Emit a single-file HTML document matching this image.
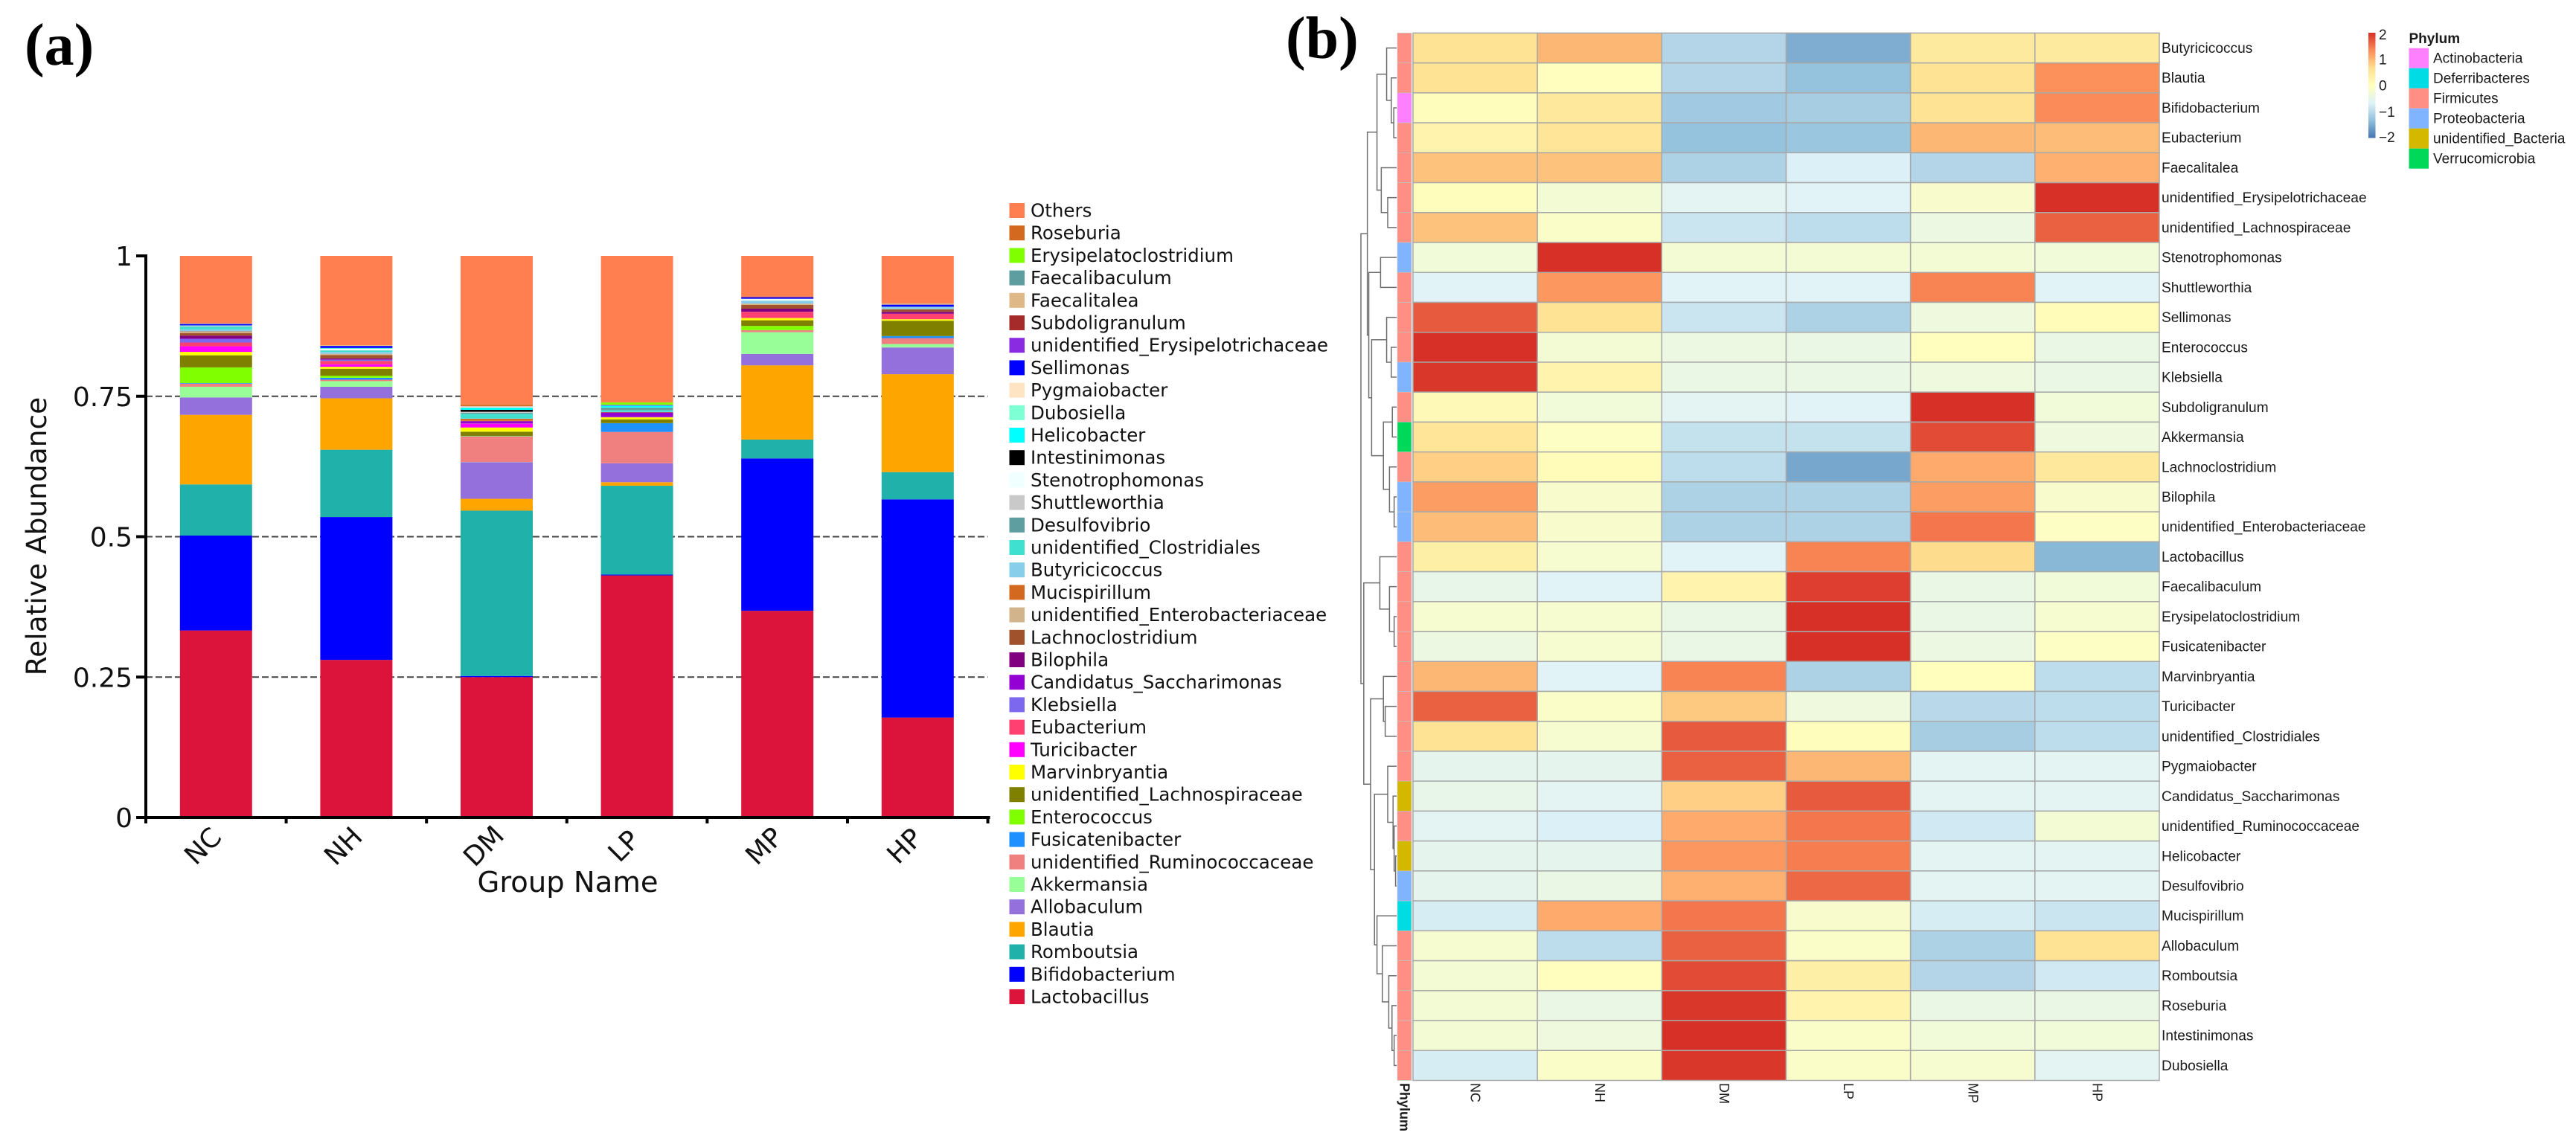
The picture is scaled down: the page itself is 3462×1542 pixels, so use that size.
<!DOCTYPE html>
<html lang="en">
<head>
<meta charset="utf-8">
<title>Relative abundance and phylum heatmap</title>
<style>
html,body{margin:0;padding:0;background:#fff;}
#figure{display:block;width:3462px;height:1542px;background:#fff;}
.dv{font-family:"DejaVu Sans",sans-serif;fill:#111;}
.lb{font-family:"Liberation Sans",sans-serif;fill:#1a1a1a;}
.panel{font-family:"Liberation Serif",serif;font-weight:bold;font-size:80px;fill:#000;}
</style>
</head>
<body>
<svg id="figure" xmlns="http://www.w3.org/2000/svg" width="3462" height="1542" viewBox="0 0 3462 1542">
<rect x="0" y="0" width="3462" height="1542" fill="#ffffff"/>
<text class="panel" x="33" y="87">(a)</text>
<text class="panel" x="1728" y="78">(b)</text>
<g id="barChart"></g>
<g id="barLegend"></g>
<g id="heatmap"></g>
<g id="dendrogram"></g>
<g id="heatLegend"></g>
</svg>
<script>
// ---------- Panel (a) data ----------
const groups = ['NC','NH','DM','LP','MP','HP'];
const yTicks = [0,0.25,0.5,0.75,1];
const yTickLabels = ['0','0.25','0.5','0.75','1'];
const species = ['Lactobacillus','Bifidobacterium','Romboutsia','Blautia','Allobaculum','Akkermansia','unidentified_Ruminococcaceae','Fusicatenibacter','Enterococcus','unidentified_Lachnospiraceae','Marvinbryantia','Turicibacter','Eubacterium','Klebsiella','Candidatus_Saccharimonas','Bilophila','Lachnoclostridium','unidentified_Enterobacteriaceae','Mucispirillum','Butyricicoccus','unidentified_Clostridiales','Desulfovibrio','Shuttleworthia','Stenotrophomonas','Intestinimonas','Helicobacter','Dubosiella','Pygmaiobacter','Sellimonas','unidentified_Erysipelotrichaceae','Subdoligranulum','Faecalitalea','Faecalibaculum','Erysipelatoclostridium','Roseburia','Others'];
const palette = ['#DC143C','#0000FF','#20B2AA','#FFA500','#9370DB','#98FF98','#F08080','#1E90FF','#7FFF00','#808000','#FFFF00','#FF00FF','#FF4070','#7B68EE','#9400D3','#800080','#A0522D','#D2B48C','#D2691E','#87CEEB','#40E0D0','#5F9EA0','#C9C9C9','#F0FFFF','#000000','#00FFFF','#7FFFD4','#FFE4C4','#0000FF','#8A2BE2','#A52A2A','#DEB887','#5F9EA0','#7FFF00','#D2691E','#FF7F50'];
const valuesNC = [.333,.169,.091,.124,.031,.019,.0055,.001,.028,.0215,.006,.010,.0067,.0063,.001,.005,.0045,.002,.001,.0035,.005,.0003,.0003,.0005,.0002,.0005,.0002,.0002,.0025,.0001,.0001,.0008,.0001,.0001,.0001,.1200];
const valuesNH = [.2806,.2544,.1198,.0916,.0206,.010,.0025,.0035,.0036,.0124,.0035,.0044,.0061,.0018,.0007,.002,.0057,.0022,.0002,.0034,.0026,.0002,.0002,.0025,.0002,.0005,.0006,.0002,.0035,.0002,.0002,.0006,.0001,.0001,.0001,.1592];
const valuesDM = [.25,.002,.2944,.0211,.0652,.0003,.0456,.0004,.0005,.0075,.0074,.0067,.0002,.0002,.004,.0003,.0002,.0002,.0037,.0004,.0084,.0018,.0018,.0001,.0034,.0039,.0001,.0022,.0001,.0001,.0001,.0001,.0001,.0001,.0028,.2646];
const valuesLP = [.431,.0015,.1582,.0063,.0335,.0001,.0559,.0155,.0002,.0068,.0035,.0003,.0002,.0002,.0073,.0007,.0002,.0002,.0004,.0002,.0031,.0044,.0001,.0001,.0001,.0032,.0001,.0001,.0006,.0005,.0001,.0001,.0001,.0042,.0002,.2608];
const valuesMP = [.368,.2713,.0336,.1322,.0203,.0388,.0035,.0001,.0074,.0101,.004,.0003,.0108,.0001,.0001,.0054,.0067,.0023,.0001,.0046,.0003,.0002,.0002,.0029,.0001,.0001,.0001,.0001,.0023,.0005,.001,.0001,.0001,0,0,.0723];
const valuesHP = [.178,.3885,.0485,.1743,.0476,.0061,.0106,.0035,.0001,.0273,.0027,.0002,.0094,.0001,.0001,.0034,.0044,.0002,.0001,.0034,.0003,.0001,.0001,.0001,.0001,.0001,.0001,.0001,.0035,.0002,.0002,.0016,.0001,.0001,.0001,.0847];
const groupValues = [valuesNC,valuesNH,valuesDM,valuesLP,valuesMP,valuesHP];

// ---------- Panel (b) data ----------
const heatRows = ['Butyricicoccus','Blautia','Bifidobacterium','Eubacterium','Faecalitalea','unidentified_Erysipelotrichaceae','unidentified_Lachnospiraceae','Stenotrophomonas','Shuttleworthia','Sellimonas','Enterococcus','Klebsiella','Subdoligranulum','Akkermansia','Lachnoclostridium','Bilophila','unidentified_Enterobacteriaceae','Lactobacillus','Faecalibaculum','Erysipelatoclostridium','Fusicatenibacter','Marvinbryantia','Turicibacter','unidentified_Clostridiales','Pygmaiobacter','Candidatus_Saccharimonas','unidentified_Ruminococcaceae','Helicobacter','Desulfovibrio','Mucispirillum','Allobaculum','Romboutsia','Roseburia','Intestinimonas','Dubosiella'];
const heatPhyla = ['Firmicutes','Firmicutes','Actinobacteria','Firmicutes','Firmicutes','Firmicutes','Firmicutes','Proteobacteria','Firmicutes','Firmicutes','Firmicutes','Proteobacteria','Firmicutes','Verrucomicrobia','Firmicutes','Proteobacteria','Proteobacteria','Firmicutes','Firmicutes','Firmicutes','Firmicutes','Firmicutes','Firmicutes','Firmicutes','Firmicutes','unidentified_Bacteria','Firmicutes','unidentified_Bacteria','Proteobacteria','Deferribacteres','Firmicutes','Firmicutes','Firmicutes','Firmicutes','Firmicutes'];
const heatValues = [
[.6,1.0,-1.05,-1.5,.45,.45],
[.6,.02,-1.05,-1.3,.6,1.3],
[.05,.5,-1.2,-1.15,.6,1.35],
[.25,.55,-1.3,-1.25,1.0,.95],
[.9,.9,-1.1,-.7,-1.05,1.05],
[.05,-.25,-.6,-.65,-.15,2],
[.9,-.1,-.85,-.95,-.4,1.65],
[-.3,2,-.25,-.25,-.25,-.3],
[-.65,1.25,-.65,-.65,1.4,-.65],
[1.7,.6,-.85,-1.1,-.35,.07],
[2,-.25,-.4,-.45,.02,-.45],
[1.95,.25,-.45,-.45,-.35,-.45],
[.12,-.3,-.6,-.65,2,-.3],
[.55,-.05,-.9,-.9,1.8,-.35],
[.8,.07,-.95,-1.55,1.1,.5],
[1.2,-.15,-1.1,-1.1,1.2,-.15],
[.95,-.15,-1.1,-1.1,1.5,-.05],
[.35,-.2,-.65,1.4,.7,-1.4],
[-.5,-.65,.25,1.9,-.45,-.3],
[-.2,-.2,-.45,2,-.45,-.2],
[-.4,-.2,-.45,2,-.4,-.05],
[1.0,-.65,1.4,-1.1,.03,-.95],
[1.65,-.1,.85,-.35,-1.0,-.95],
[.6,-.2,1.7,.05,-1.15,-.95],
[-.55,-.55,1.65,1.0,-.6,-.6],
[-.5,-.6,.8,1.7,-.6,-.6],
[-.6,-.7,1.1,1.5,-.8,-.25],
[-.55,-.55,1.25,1.45,-.6,-.6],
[-.55,-.45,1.05,1.6,-.6,-.6],
[-.75,1.1,1.5,-.15,-.75,-.85],
[-.2,-.95,1.65,-.1,-1.1,.6],
[-.25,.02,1.8,.35,-1.05,-.8],
[-.25,-.45,1.95,.25,-.45,-.45],
[-.25,-.35,2,-.1,-.3,-.3],
[-.75,-.1,1.95,-.1,-.2,-.6]
];
const phylumNames = ['Actinobacteria','Deferribacteres','Firmicutes','Proteobacteria','unidentified_Bacteria','Verrucomicrobia'];
const phylumColors = ['#FF80FF','#00DCE4','#FF8F85','#80B4FF','#D4B800','#00D85A'];
const colorbarTicks = [2,1,0,-1,-2];
// Row clustering: [merge height, left child, right child]; numbers are row indices.
const treeTop = [.82,[.55,[.28,0,[.15,1,[.08,2,3]]],[.43,4,[.25,5,6]]],[.78,[.45,7,8],[.70,[.28,9,[.15,10,11]],[.37,[.12,12,13],[.20,14,[.07,15,16]]]]]];
const treeBottom = [.92,[.47,17,[.20,18,[.07,19,20]]],[.73,[.37,21,[.32,22,23]],[.62,[.25,24,[.10,25,[.07,26,[.03,27,28]]]],[.55,29,[.40,30,[.22,31,[.13,32,[.07,33,34]]]]]]]];
const treeRoot = [1,treeTop,treeBottom];

// ---------- helpers ----------
const NS = 'http://www.w3.org/2000/svg';
function make(parent, tag, attrs, txt){
  const el = document.createElementNS(NS, tag);
  for (const k in attrs) el.setAttribute(k, attrs[k]);
  if (txt !== undefined) el.textContent = txt;
  parent.appendChild(el);
  return el;
}
function kebab(s){ return String(s).toLowerCase().replace(/[^a-z0-9]+/g,'-'); }

// ---------- Panel (a) axes ----------
const Y0 = 1099, Y1 = 344, X0 = 196, BAND = 188.6, BAR_W = 97;
const yScale = v => Y0 + (Y1 - Y0) * v;
const xBand = i => X0 + BAND * (i + 0.5);
const xEdge = i => X0 + BAND * i;
const barChart = document.getElementById('barChart');

[0.25,0.5,0.75].forEach(t => {
  const grid = make(barChart,'line',{x1:X0,x2:X0+BAND*groups.length,y1:yScale(t),y2:yScale(t),stroke:'#444',"stroke-width":2,"stroke-dasharray":"9 4"});
  
  
});

groups.forEach((g,i) => {
  let cum = 0;
  groupValues[i].forEach((v,s) => {
    if (v <= 0) return;
    const seg = make(barChart,'rect',{x:xBand(i)-BAR_W/2,y:yScale(cum+v),width:BAR_W,height:yScale(cum)-yScale(cum+v),fill:palette[s]});
    
    
    cum += v;
  });
});

const yAxisLine = make(barChart,'line',{x1:X0,x2:X0,y1:Y1-2,y2:Y0+8,stroke:'#000',"stroke-width":4});


const xAxisLine = make(barChart,'line',{x1:X0-13,x2:X0+BAND*groups.length+3,y1:Y0,y2:Y0,stroke:'#000',"stroke-width":4});



yTicks.forEach((t,i) => {
  const tick = make(barChart,'line',{x1:X0-13,x2:X0,y1:yScale(t),y2:yScale(t),stroke:'#000',"stroke-width":4});
  
  
  const lab = make(barChart,'text',{class:'dv',x:178,y:yScale(t)+13,"text-anchor":'end',"font-size":36},yTickLabels[i]);
  
  
});
for (let i = 1; i <= groups.length; i++) {
  const tick = make(barChart,'line',{x1:xEdge(i),x2:xEdge(i),y1:Y0,y2:Y0+8,stroke:'#000',"stroke-width":4});
  
  
}
groups.forEach((g,i) => {
  const lx = xBand(i) - 17, ly = 1138;
  const lab = make(barChart,'text',{class:'dv',x:lx,y:ly,"text-anchor":'middle',"dominant-baseline":'central',"font-size":36,transform:'rotate(-45 '+lx+' '+ly+')'},g);
  
  
});
const yTitle = make(barChart,'text',{class:'dv',x:0,y:0,"text-anchor":'middle',"font-size":37.5,transform:'translate(62,721) rotate(-90)'},'Relative Abundance');


const xTitle = make(barChart,'text',{class:'dv',x:763,y:1199,"text-anchor":'middle',"font-size":38.5},'Group Name');



// ---------- Panel (a) legend ----------
const barLegend = document.getElementById('barLegend');
species.slice().reverse().forEach((name,i) => {
  const cy = 283 + i * 30.2;
  const col = palette[species.length - 1 - i];
  const sw = make(barLegend,'rect',{x:1356.5,y:cy-10,width:20.5,height:20,fill:col});
  
  
  const t = make(barLegend,'text',{class:'dv',x:1385,y:cy+8.5,"font-size":24.5},name);
  
  
});

// ---------- Panel (b) heatmap ----------
const HX0 = 1899, HX1 = 2902, HY0 = 44.4, HY1 = 1452.5;
const cellW = (HX1 - HX0) / groups.length, cellH = (HY1 - HY0) / heatRows.length;
const hx = c => HX0 + c * cellW;
const hy = r => HY0 + r * cellH;
const stops = ['#4575B4','#91BFDB','#E0F3F8','#FFFFBF','#FEE090','#FC8D59','#D73027'];
function hexToRgb(h){ return [1,3,5].map(p => parseInt(h.substr(p,2),16)); }
function zColor(z){
  const p = Math.max(0, Math.min(1, (z + 2) / 4)) * (stops.length - 1);
  const i = Math.min(stops.length - 2, Math.floor(p)), f = p - i;
  const a = hexToRgb(stops[i]), b = hexToRgb(stops[i+1]);
  return 'rgb(' + a.map((v,k) => Math.round(v + (b[k]-v)*f)).join(',') + ')';
}
const heatmap = document.getElementById('heatmap');
heatValues.forEach((row,r) => {
  row.forEach((z,c) => {
    const cell = make(heatmap,'rect',{x:hx(c),y:hy(r),width:cellW,height:cellH,fill:zColor(z),stroke:'#a9a9a9',"stroke-width":1.5});
    
    
  });
  const anno = make(heatmap,'rect',{x:1878,y:hy(r),width:19,height:cellH,fill:phylumColors[phylumNames.indexOf(heatPhyla[r])],stroke:'#c4c4c4',"stroke-width":.6});
  
  
  const lab = make(heatmap,'text',{class:'lb',x:2905,y:hy(r)+cellH/2+6.5,"font-size":19.15},heatRows[r]);
  
  
});
groups.forEach((g,c) => {
  const lx = hx(c) + cellW/2, ly = 1456;
  const lab = make(heatmap,'text',{class:'lb',x:lx,y:ly,"font-size":18,"dominant-baseline":'central',transform:'rotate(90 '+lx+' '+ly+')'},g);
  
  
});
const phylumCol = make(heatmap,'text',{class:'lb',x:1887.5,y:1456,"font-size":18,"font-weight":'bold',"dominant-baseline":'central',transform:'rotate(90 1887.5 1456)'},'Phylum');



// ---------- dendrogram ----------
const dendrogram = document.getElementById('dendrogram');
const treeX = h => 1877 - h * 48;
let treeCount = 0;
function drawNode(n){
  if (typeof n === 'number') return {x: treeX(0), y: hy(n) + cellH/2};
  const a = drawNode(n[1]), b = drawNode(n[2]);
  const x = treeX(n[0]);
  const p = make(dendrogram,'path',{d:'M'+a.x+' '+a.y+'H'+x+'V'+b.y+'H'+b.x,fill:'none',stroke:'#6e6e6e',"stroke-width":1.5});
  treeCount++;
  
  
  return {x:x, y:(a.y + b.y)/2};
}
drawNode(treeRoot);

// ---------- heatmap legends ----------
const heatLegend = document.getElementById('heatLegend');
const cbX = 3183, cbW = 9.5, cbTop = 44, cbBottom = 185;
const cbY = z => cbBottom + (cbTop - cbBottom) * (z + 2) / 4;
for (let i = 0; i < 70; i++) {
  const z0 = -2 + 4 * i / 70, z1 = -2 + 4 * (i + 1) / 70;
  const band = make(heatLegend,'rect',{x:cbX,y:cbY(z1),width:cbW,height:cbY(z0)-cbY(z1)+.5,fill:zColor((z0+z1)/2)});
  
  
}
colorbarTicks.forEach(t => {
  const y = Math.min(Math.max(cbY(t), 46), 184);
  const lab = make(heatLegend,'text',{class:'lb',x:3197,y:y+7,"font-size":19},String(t).replace('-','\u2212'));
  
  
});
const phTitle = make(heatLegend,'text',{class:'lb',x:3237.5,y:58,"font-size":19,"font-weight":'bold'},'Phylum');


phylumNames.forEach((name,i) => {
  const y = 64.7 + i * 27;
  const sw = make(heatLegend,'rect',{x:3237.5,y:y,width:26.5,height:27,fill:phylumColors[i]});
  
  
  const t = make(heatLegend,'text',{class:'lb',x:3270,y:y+20,"font-size":19},name);
  
  
});
</script>
</body>
</html>
